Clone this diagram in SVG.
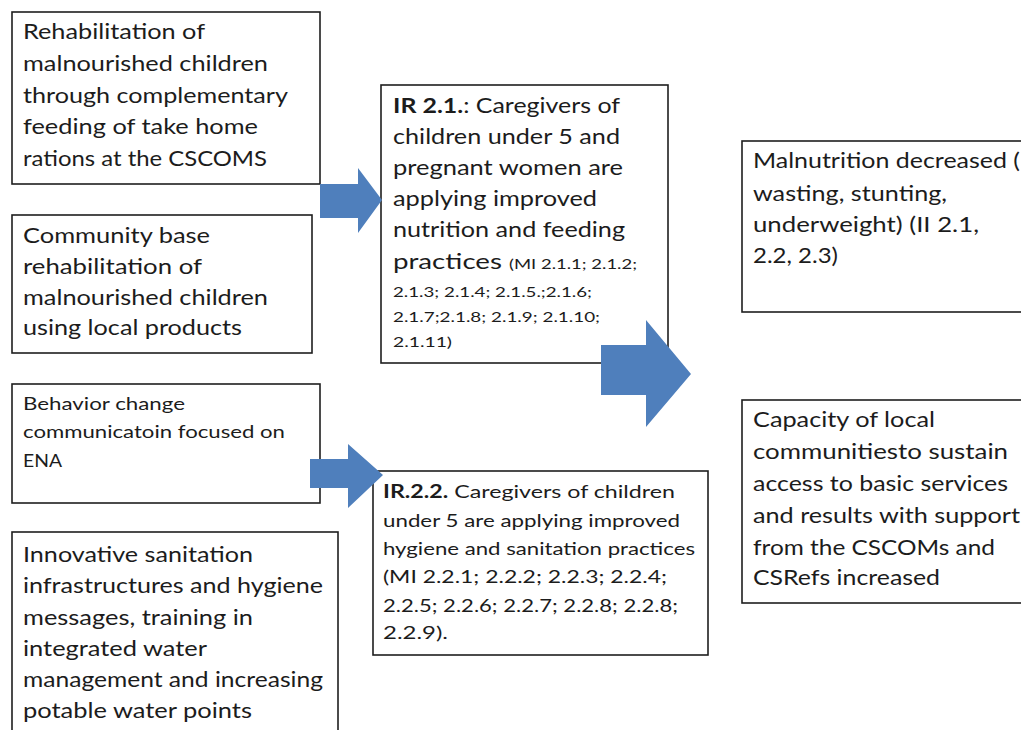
<svg xmlns="http://www.w3.org/2000/svg" width="1021" height="730" viewBox="0 0 1021 730">
  <style>
    .box { fill: #ffffff; stroke: #1e1e1e; stroke-width: 1.6; }
    text { font-family: Lato, "Open Sans", "Liberation Sans", sans-serif; fill: #1c1c1c; }
    .lg { font-size: 21px; }
    .md { font-size: 18px; }
    .sm { font-size: 14px; }
    .b { font-weight: bold; }
    .arrow { fill: #4f7fbc; }
  </style>
  <rect width="1021" height="730" fill="#ffffff"/>

  <g id="node-rehab-thr">
    <rect class="box" x="12" y="12" width="308" height="172"/>
    <text class="lg" x="23" y="39" textLength="182" lengthAdjust="spacingAndGlyphs">Rehabilitation of</text>
    <text class="lg" x="23" y="71" textLength="245" lengthAdjust="spacingAndGlyphs">malnourished children</text>
    <text class="lg" x="23" y="103" textLength="265" lengthAdjust="spacingAndGlyphs">through complementary</text>
    <text class="lg" x="23" y="134" textLength="235" lengthAdjust="spacingAndGlyphs">feeding of take home</text>
    <text class="lg" x="23" y="166" textLength="244" lengthAdjust="spacingAndGlyphs">rations at the CSCOMS</text>
  </g>

  <g id="node-community-rehab">
    <rect class="box" x="12" y="215" width="300" height="138"/>
    <text class="lg" x="23" y="243" textLength="187" lengthAdjust="spacingAndGlyphs">Community base</text>
    <text class="lg" x="23" y="274" textLength="179" lengthAdjust="spacingAndGlyphs">rehabilitation of</text>
    <text class="lg" x="23" y="305" textLength="245" lengthAdjust="spacingAndGlyphs">malnourished children</text>
    <text class="lg" x="23" y="335" textLength="219" lengthAdjust="spacingAndGlyphs">using local products</text>
  </g>

  <g id="node-bcc">
    <rect class="box" x="12" y="384" width="308" height="119"/>
    <text class="md" x="23" y="410" textLength="162" lengthAdjust="spacingAndGlyphs">Behavior change</text>
    <text class="md" x="23" y="438" textLength="262" lengthAdjust="spacingAndGlyphs">communicatoin focused on</text>
    <text class="md" x="23" y="467" textLength="39" lengthAdjust="spacingAndGlyphs">ENA</text>
  </g>

  <g id="node-sanitation">
    <rect class="box" x="12" y="532" width="326" height="210"/>
    <text class="lg" x="23" y="562" textLength="230" lengthAdjust="spacingAndGlyphs">Innovative sanitation</text>
    <text class="lg" x="23" y="593" textLength="300" lengthAdjust="spacingAndGlyphs">infrastructures and hygiene</text>
    <text class="lg" x="23" y="625" textLength="230" lengthAdjust="spacingAndGlyphs">messages, training in</text>
    <text class="lg" x="23" y="656" textLength="184" lengthAdjust="spacingAndGlyphs">integrated water</text>
    <text class="lg" x="23" y="687" textLength="300" lengthAdjust="spacingAndGlyphs">management and increasing</text>
    <text class="lg" x="23" y="718" textLength="229" lengthAdjust="spacingAndGlyphs">potable water points</text>
  </g>

  <g id="node-ir21">
    <rect class="box" x="381" y="85" width="287" height="278"/>
    <text class="lg" x="393" y="113" textLength="227" lengthAdjust="spacingAndGlyphs"><tspan class="b">IR 2.1.</tspan>: Caregivers of</text>
    <text class="lg" x="393" y="144" textLength="227" lengthAdjust="spacingAndGlyphs">children under 5 and</text>
    <text class="lg" x="393" y="175" textLength="230" lengthAdjust="spacingAndGlyphs">pregnant women are</text>
    <text class="lg" x="393" y="206" textLength="204" lengthAdjust="spacingAndGlyphs">applying improved</text>
    <text class="lg" x="393" y="237" textLength="232" lengthAdjust="spacingAndGlyphs">nutrition and feeding</text>
    <text class="lg" x="393" y="269" textLength="244" lengthAdjust="spacingAndGlyphs">practices <tspan class="sm">(MI 2.1.1;  2.1.2;</tspan></text>
    <text class="sm" x="393" y="297" textLength="199" lengthAdjust="spacingAndGlyphs">2.1.3; 2.1.4; 2.1.5.;2.1.6;</text>
    <text class="sm" x="393" y="322" textLength="207" lengthAdjust="spacingAndGlyphs">2.1.7;2.1.8; 2.1.9; 2.1.10;</text>
    <text class="sm" x="393" y="347" textLength="59" lengthAdjust="spacingAndGlyphs">2.1.11)</text>
  </g>

  <g id="node-ir22">
    <rect class="box" x="373" y="471" width="335" height="184"/>
    <text class="md" x="383" y="498" textLength="292" lengthAdjust="spacingAndGlyphs"><tspan class="b">IR.2.2.</tspan> Caregivers of children</text>
    <text class="md" x="383" y="527" textLength="297" lengthAdjust="spacingAndGlyphs">under 5 are applying improved</text>
    <text class="md" x="383" y="555" textLength="312" lengthAdjust="spacingAndGlyphs">hygiene and sanitation practices</text>
    <text class="md" x="383" y="583" textLength="284" lengthAdjust="spacingAndGlyphs">(MI  2.2.1; 2.2.2; 2.2.3; 2.2.4;</text>
    <text class="md" x="383" y="612" textLength="295" lengthAdjust="spacingAndGlyphs">2.2.5; 2.2.6; 2.2.7; 2.2.8; 2.2.8;</text>
    <text class="md" x="383" y="639" textLength="65" lengthAdjust="spacingAndGlyphs">2.2.9).</text>
  </g>

  <g id="node-malnutrition">
    <rect class="box" x="742" y="141" width="290" height="171"/>
    <text class="lg" x="753" y="168" textLength="267" lengthAdjust="spacingAndGlyphs">Malnutrition decreased (</text>
    <text class="lg" x="753" y="201" textLength="194" lengthAdjust="spacingAndGlyphs">wasting, stunting,</text>
    <text class="lg" x="753" y="232" textLength="226" lengthAdjust="spacingAndGlyphs">underweight)  (II 2.1,</text>
    <text class="lg" x="753" y="263" textLength="85" lengthAdjust="spacingAndGlyphs">2.2, 2.3)</text>
  </g>

  <g id="node-capacity">
    <rect class="box" x="742" y="400" width="290" height="203"/>
    <text class="lg" x="753" y="427" textLength="182" lengthAdjust="spacingAndGlyphs">Capacity of local</text>
    <text class="lg" x="753" y="459" textLength="255" lengthAdjust="spacingAndGlyphs">communitiesto sustain</text>
    <text class="lg" x="753" y="491" textLength="255" lengthAdjust="spacingAndGlyphs">access to basic services</text>
    <text class="lg" x="753" y="523" textLength="267" lengthAdjust="spacingAndGlyphs">and results with support</text>
    <text class="lg" x="753" y="555" textLength="242" lengthAdjust="spacingAndGlyphs">from the CSCOMs and</text>
    <text class="lg" x="753" y="585" textLength="187" lengthAdjust="spacingAndGlyphs">CSRefs increased</text>
  </g>

  <!-- block arrows, drawn over the box borders -->
  <g id="connectors">
    <polygon class="arrow" points="320,184 358,184 358,168 382,200 358,233 358,218 320,218"/>
    <polygon class="arrow" points="310,459 348,459 348,444 383,475 348,508 348,488 310,488"/>
    <polygon class="arrow" points="601,345 646,345 646,320 691,374 646,427 646,395 601,395"/>
  </g>
</svg>
